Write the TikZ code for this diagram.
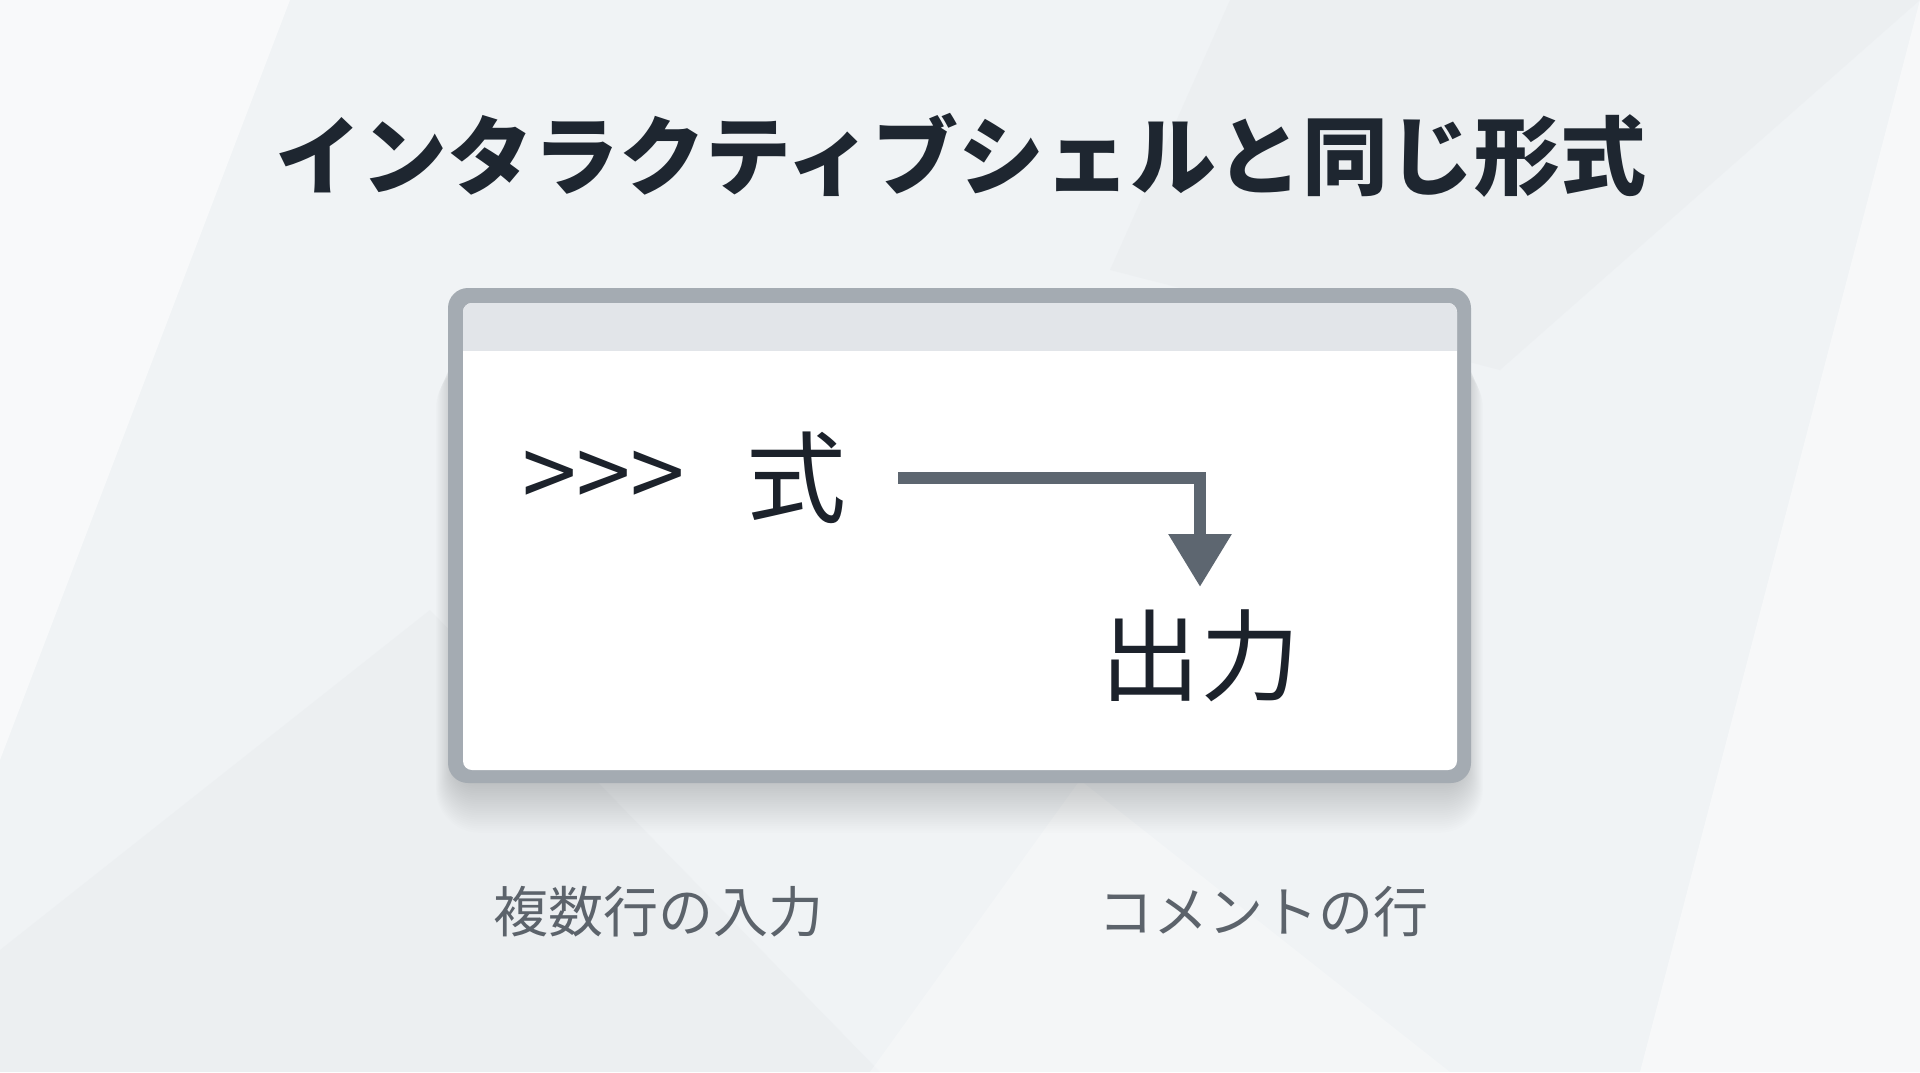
\documentclass[tikz,border=0pt]{standalone}
\usepackage{fontspec}
\newfontfamily\cjk{Noto Sans CJK JP}
\usetikzlibrary{arrows.meta}
\definecolor{bgbase}{HTML}{F0F3F5}
\definecolor{bglight}{HTML}{F9FAFB}
\definecolor{bgdark}{HTML}{E8EBEE}
\definecolor{framegray}{HTML}{A4ABB2}
\definecolor{barfill}{HTML}{E2E5E9}
\definecolor{titleink}{HTML}{1E2630}
\definecolor{textink}{HTML}{1C222B}
\definecolor{arrowgray}{HTML}{5D6670}
\definecolor{labelgray}{HTML}{5C636B}
\tikzset{
  titletext/.style={inner sep=0pt, text=titleink, font=\cjk\bfseries\fontsize{86}{86}\selectfont},
  shelltext/.style={inner sep=0pt, text=textink, font=\cjk\fontsize{100}{100}\selectfont},
  prompttext/.style={inner sep=0pt, text=textink, font=\cjk\fontsize{98}{98}\selectfont},
  labeltext/.style={inner sep=0pt, text=labelgray, font=\cjk\fontsize{55}{55}\selectfont},
  flowarrow/.style={draw=arrowgray, line width=12.5pt, -{Triangle[width=60pt,length=53pt]}, fill=none},
}
\begin{document}
\begin{tikzpicture}[x=1pt,y=-1pt]
\useasboundingbox (0,0) rectangle (1920,1072);
% background
\fill[bgbase] (0,0) rectangle (1920,1072);
\fill[bglight,opacity=0.9] (0,0) -- (290,0) -- (0,760) -- cycle;
\fill[bgdark,opacity=0.45] (0,1072) -- (0,950) -- (430,610) -- (880,1072) -- cycle;
\fill[bglight,opacity=0.45] (870,1072) -- (1080,780) -- (1450,1072) -- cycle;
\fill[bgdark,opacity=0.45] (1230,0) -- (1920,0) -- (1500,370) -- (1110,270) -- cycle;
\fill[bglight,opacity=0.8] (1920,0) -- (1920,1072) -- (1640,1072) -- cycle;
% soft shadow
\foreach \i in {1,...,24}{
  \fill[black,opacity=0.006,rounded corners={20pt+\i*1pt}] ({455-\i*0.8},{340+\i*1}) rectangle ({1464+\i*0.8},{780+\i*2.2});
}
% window frame
\fill[framegray,rounded corners=20pt] (448,288) rectangle (1471,783);
\fill[white,rounded corners=9pt] (463,303) rectangle (1457,770);
\begin{scope}
  \clip[rounded corners=9pt] (463,303) rectangle (1457,770);
  \fill[barfill] (463,303) rectangle (1457,351);
\end{scope}
% title
\node[titletext] (title) at (961,155) {インタラクティブシェルと同じ形式};
% shell contents
\node[prompttext, anchor=west] (prompt) at (522,480) {>>>};
\node[shelltext] (expr) at (796,478) {式};
\node[shelltext] (out) at (1200,656) {出力};
\coordinate (a0) at (898,478);
\coordinate (a1) at (1200,587);
\draw[flowarrow] (a0) -| (a1);
% labels
\node[labeltext] (lab1) at (658,912) {複数行の入力};
\node[labeltext] (lab2) at (1263,912) {コメントの行};
\end{tikzpicture}
\end{document}
